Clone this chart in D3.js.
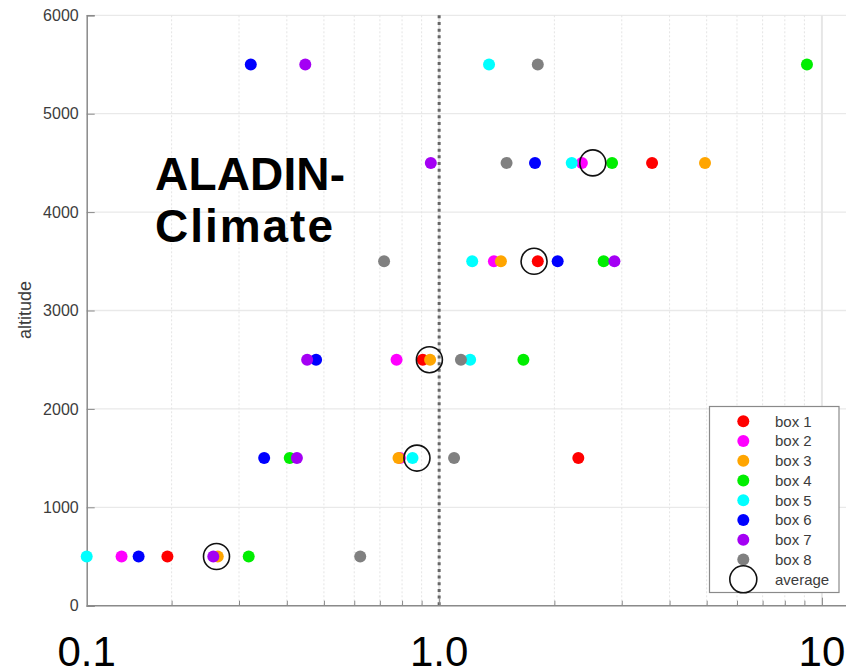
<!DOCTYPE html>
<html>
<head>
<meta charset="utf-8">
<script src="https://cdn.jsdelivr.net/npm/d3@7"></script>
<style>
  html, body { margin: 0; padding: 0; background: #fff; }
  svg { display: block; font-family: "Liberation Sans", Arial, Helvetica, sans-serif; }
</style>
</head>
<body>
<svg id="chart" width="846" height="672"></svg>
<script>
// ---------- data ----------
const altitudes = [500, 1500, 2500, 3500, 4500, 5500];
const box1 = [0.195, 2.31, 0.906, 1.81, 3.60, null];
const box2 = [0.148, 0.79, 0.774, 1.39, 2.36, null];
const box3 = [0.264, 0.783, 0.947, 1.45, 4.95, null];
const box4 = [0.318, 0.407, 1.66, 2.69, 2.83, 9.14];
const box5 = [0.120, 0.852, 1.205, 1.22, 2.22, 1.35];
const box6 = [0.164, 0.349, 0.477, 2.04, 1.78, 0.322];
const box7 = [0.257, 0.425, 0.452, 2.87, 0.951, 0.447];
const box8 = [0.622, 1.094, 1.14, 0.718, 1.50, 1.81];
const average = [0.262, 0.875, 0.943, 1.77, 2.52, null];
const seriesNames = ["box 1", "box 2", "box 3", "box 4", "box 5", "box 6", "box 7", "box 8"];
const seriesValues = [box1, box2, box3, box4, box5, box6, box7, box8];
const seriesColors = ["#ff0000", "#ff00ff", "#ffa500", "#00ee00", "#00ffff", "#0000ff", "#a400f4", "#808080"];
const yTicks = [0, 1000, 2000, 3000, 4000, 5000, 6000];
const xMajorTicks = [1, 10];
const xMinorTicks = [0.2, 0.3, 0.4, 0.5, 0.6, 0.7, 0.8, 0.9, 2, 3, 4, 5, 6, 7, 8, 9];
const xBigLabels = [{v: 0.12, t: "0.1"}, {v: 1, t: "1.0"}, {v: 10, t: "10"}];

// ---------- layout ----------
const svg = d3.select("#chart");
const x = d3.scaleLog().domain([0.12, 12.5]).range([86.7, 859]);
const y = d3.scaleLinear().domain([0, 6000]).range([605.7, 15.3]);
const x0 = x.range()[0], x1 = x.range()[1];
const yb = y.range()[0], yt = y.range()[1];

svg.append("rect").attr("width", 846).attr("height", 672).attr("fill", "#fff");

// grid
const grid = svg.append("g");
grid.selectAll("line.hg").data(yTicks).join("line")
  .attr("x1", x0).attr("x2", x1)
  .attr("y1", d => y(d)).attr("y2", d => y(d))
  .attr("stroke", "#e9e9e9").attr("stroke-width", 1.3);
grid.selectAll("line.vmin").data(xMinorTicks).join("line")
  .attr("x1", d => x(d)).attr("x2", d => x(d))
  .attr("y1", yt).attr("y2", yb)
  .attr("stroke", "#e4e4e4").attr("stroke-width", 1)
  .attr("stroke-dasharray", "2,2");
grid.selectAll("line.vmaj").data(xMajorTicks).join("line")
  .attr("x1", d => x(d)).attr("x2", d => x(d))
  .attr("y1", yt).attr("y2", yb)
  .attr("stroke", "#e6e6e6").attr("stroke-width", 2);

// reference dotted line at 1
svg.append("line")
  .attr("x1", x(1)).attr("x2", x(1)).attr("y1", yt).attr("y2", yb)
  .attr("stroke", "#666").attr("stroke-width", 3)
  .attr("stroke-dasharray", "3,3.67");

// axes
const yAxis = d3.axisLeft(y).tickValues(yTicks).tickSize(-8).tickPadding(8).tickFormat(d3.format("d"));
const yg = svg.append("g").attr("transform", `translate(${x0},0)`).call(yAxis);
yg.select(".domain").attr("stroke", "#8a8a8a").attr("stroke-width", 1.5);
yg.selectAll(".tick line").attr("stroke", "#8a8a8a");
yg.selectAll(".tick text").attr("fill", "#3c3c3c").style("font-size", "16px")
  .style("font-family", "'Liberation Sans', Arial, sans-serif");

const xAxisMaj = d3.axisBottom(x).tickValues(xMajorTicks).tickSize(-8).tickFormat("");
const xg = svg.append("g").attr("transform", `translate(0,${yb})`).call(xAxisMaj);
xg.select(".domain").remove();
xg.selectAll(".tick line").attr("stroke", "#8a8a8a");
const xAxisMin = d3.axisBottom(x).tickValues(xMinorTicks).tickSize(-5).tickFormat("");
const xg2 = svg.append("g").attr("transform", `translate(0,${yb})`).call(xAxisMin);
xg2.select(".domain").remove();
xg2.selectAll(".tick line").attr("stroke", "#8a8a8a");
svg.append("line").attr("x1", x0).attr("x2", 846).attr("y1", yb).attr("y2", yb)
  .attr("stroke", "#8a8a8a").attr("stroke-width", 1.5);

// y label
svg.append("text")
  .attr("transform", `translate(31,310) rotate(-90)`)
  .attr("text-anchor", "middle")
  .attr("fill", "#3c3c3c").style("font-size", "18px")
  .text("altitude");

// big x labels
svg.selectAll("text.big").data(xBigLabels).join("text")
  .attr("class", "big")
  .attr("x", d => x(d.v)).attr("y", 666)
  .attr("text-anchor", "middle")
  .attr("fill", "#000").style("font-size", "42px")
  .text(d => d.t);

// annotation
const ann = svg.append("text").attr("fill", "#000").style("font-size", "46px").style("font-weight", "bold");
ann.append("tspan").attr("x", 155).attr("y", 190).attr("textLength", 190).text("ALADIN-");
ann.append("tspan").attr("x", 155).attr("y", 242).attr("textLength", 178).text("Climate");

// points
const pts = svg.append("g");
seriesValues.forEach((vals, i) => {
  const data = altitudes.map((a, k) => ({a, v: vals[k]})).filter(d => d.v != null);
  pts.selectAll(null).data(data).join("circle")
    .attr("cx", d => x(d.v)).attr("cy", d => y(d.a)).attr("r", 6)
    .attr("fill", seriesColors[i]);
});
const avgData = altitudes.map((a, k) => ({a, v: average[k]})).filter(d => d.v != null);
pts.selectAll("circle.avg").data(avgData).join("circle")
  .attr("class", "avg")
  .attr("cx", d => x(d.v)).attr("cy", d => y(d.a)).attr("r", 13)
  .attr("fill", "none").attr("stroke", "#111").attr("stroke-width", 1.6);

// legend
const lg = svg.append("g");
lg.append("rect").attr("x", 709.5).attr("y", 406.5).attr("width", 129.5).attr("height", 186)
  .attr("fill", "#fff").attr("stroke", "#8a8a8a").attr("stroke-width", 1.2);
const legItems = seriesNames.map((n, i) => ({name: n, color: seriesColors[i], r: 6, fill: true}))
  .concat([{name: "average", color: "#111", r: 13.5, fill: false}]);
const ly = d3.scaleLinear().domain([0, 8]).range([421.3, 579.3]);
legItems.forEach((d, i) => {
  lg.append("circle").attr("cx", 743.3).attr("cy", ly(i)).attr("r", d.r)
    .attr("fill", d.fill ? d.color : "none")
    .attr("stroke", d.fill ? "none" : d.color).attr("stroke-width", d.fill ? 0 : 1.6);
  lg.append("text").attr("x", 775).attr("y", ly(i)).attr("dy", "0.35em")
    .attr("fill", "#3c3c3c").style("font-size", "15px").text(d.name);
});
</script>
</body>
</html>
